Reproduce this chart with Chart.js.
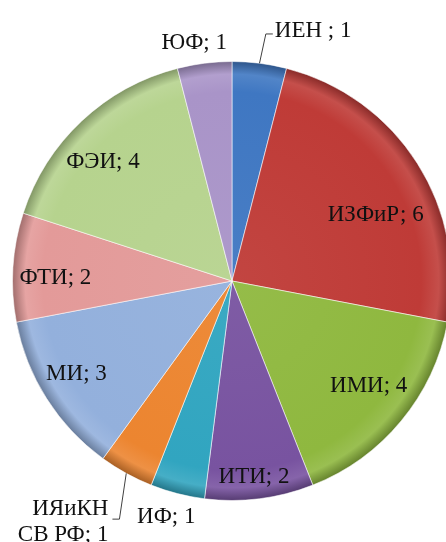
<!DOCTYPE html>
<html>
<head>
<meta charset="utf-8">
<script src="https://cdn.jsdelivr.net/npm/chart.js@4.4.1/dist/chart.umd.min.js"></script>
<style>
  html, body { margin: 0; padding: 0; background: #ffffff; overflow: hidden; width: 446px; height: 542px; }
  #wrap { position: absolute; left: 0; top: 0; width: 464px; height: 542px; }
  #probe { position: absolute; left: -1000px; font-family: "Liberation Serif"; }
</style>
</head>
<body>
<span id="probe">ИЗФиР</span>
<div id="wrap"><canvas id="c" width="464" height="542"></canvas></div>
<script>
// ---- data ----
const categories = ['ИЕН ', 'ИЗФиР', 'ИМИ', 'ИТИ', 'ИФ', 'ИЯиКН\nСВ РФ', 'МИ', 'ФТИ', 'ФЭИ', 'ЮФ'];
const values = [1, 6, 4, 2, 1, 1, 3, 2, 4, 1];

// ---- styles ----
const colors = ['#3f77c2', '#bf3b37', '#8fb83f', '#7853a0', '#31a5c0', '#ec8530', '#93b0dc', '#e39a99', '#b6d38e', '#a994c8'];
// label placement: rf = fraction of radius, da = angle offset (deg) from slice middle
const placement = [
  { rf: 1.136, da: 0.6, leader: 'right' },
  { rf: 0.72, da: 7.8 },
  { rf: 0.785, da: -2.1 },
  { rf: 0.9, da: 0.8 },
  { rf: 1.114, da: 1.2 },
  { rf: 1.2, da: -3.5, leader: 'left' },
  { rf: 0.825, da: 1.6 },
  { rf: 0.805, da: -2.6 },
  { rf: 0.8, da: -4.1 },
  { rf: 1.1, da: -1.8 }
];
const FONT = '23px "Liberation Serif", "Times New Roman", Times, serif';

function shade(hex, f) {
  const n = parseInt(hex.slice(1), 16);
  let r = (n >> 16) & 255, g = (n >> 8) & 255, b = n & 255;
  if (f >= 0) { r += (255 - r) * f; g += (255 - g) * f; b += (255 - b) * f; }
  else { r *= 1 + f; g *= 1 + f; b *= 1 + f; }
  return `rgb(${Math.round(r)},${Math.round(g)},${Math.round(b)})`;
}

function fill(ctx) {
  const chart = ctx.chart;
  const base = colors[ctx.dataIndex];
  const a = chart.chartArea;
  if (!a) return base;
  const cx = (a.left + a.right) / 2, cy = (a.top + a.bottom) / 2;
  const r = Math.min(a.right - a.left, a.bottom - a.top) / 2;
  const g = chart.ctx.createRadialGradient(cx, cy, 0, cx, cy, r);
  g.addColorStop(0, shade(base, 0.05));
  g.addColorStop(0.86, base);
  g.addColorStop(0.94, shade(base, 0.1));
  g.addColorStop(1, shade(base, -0.3));
  return g;
}

const labelPlugin = {
  id: 'sliceLabels',
  afterDatasetsDraw(chart) {
    const c = chart.ctx;
    const meta = chart.getDatasetMeta(0);
    c.save();
    c.font = FONT;
    c.fillStyle = '#111111';
    c.textBaseline = 'middle';
    c.strokeStyle = '#404040';
    c.lineWidth = 1;
    meta.data.forEach((arc, i) => {
      const p = placement[i];
      const R = arc.outerRadius;
      const mid = (arc.startAngle + arc.endAngle) / 2;
      const ang = mid + p.da * Math.PI / 180;
      const px = arc.x + Math.cos(ang) * p.rf * R;
      const py = arc.y + Math.sin(ang) * p.rf * R;
      const lines = categories[i].split('\n');
      lines[lines.length - 1] += '; ' + values[i];
      if (p.leader) {
        const ex = arc.x + Math.cos(mid) * R, ey = arc.y + Math.sin(mid) * R;
        const dir = p.leader === 'right' ? 1 : -1;
        c.beginPath();
        c.moveTo(ex, ey);
        c.lineTo(px, py);
        c.lineTo(px + dir * 7, py);
        c.stroke();
        if (dir > 0) {
          c.textAlign = 'left';
          c.fillText(lines[0], px + 9, py - 3);
        } else {
          c.textAlign = 'right';
          c.fillText(lines[0], px - 11, py - 10);
          if (lines[1]) c.fillText(lines[1], px - 11, py + 16);
        }
      } else {
        c.textAlign = 'center';
        c.fillText(lines.join(' '), px, py);
      }
    });
    c.restore();
  }
};

function draw() {
  new Chart(document.getElementById('c'), {
    type: 'pie',
    data: {
      labels: categories,
      datasets: [{
        data: values,
        backgroundColor: fill,
        borderColor: 'rgba(255,255,255,0.55)',
        borderWidth: 1
      }]
    },
    options: {
      responsive: false,
      animation: false,
      devicePixelRatio: 1,
      layout: { padding: { top: 61, bottom: 41, left: 12, right: 12 } },
      plugins: {
        legend: { display: false },
        tooltip: { enabled: false },
        title: { display: false }
      }
    },
    plugins: [labelPlugin]
  });
}

if (document.fonts && document.fonts.load) {
  document.fonts.load(FONT, 'ИЗФиР').then(draw, draw);
} else {
  draw();
}
</script>
</body>
</html>
